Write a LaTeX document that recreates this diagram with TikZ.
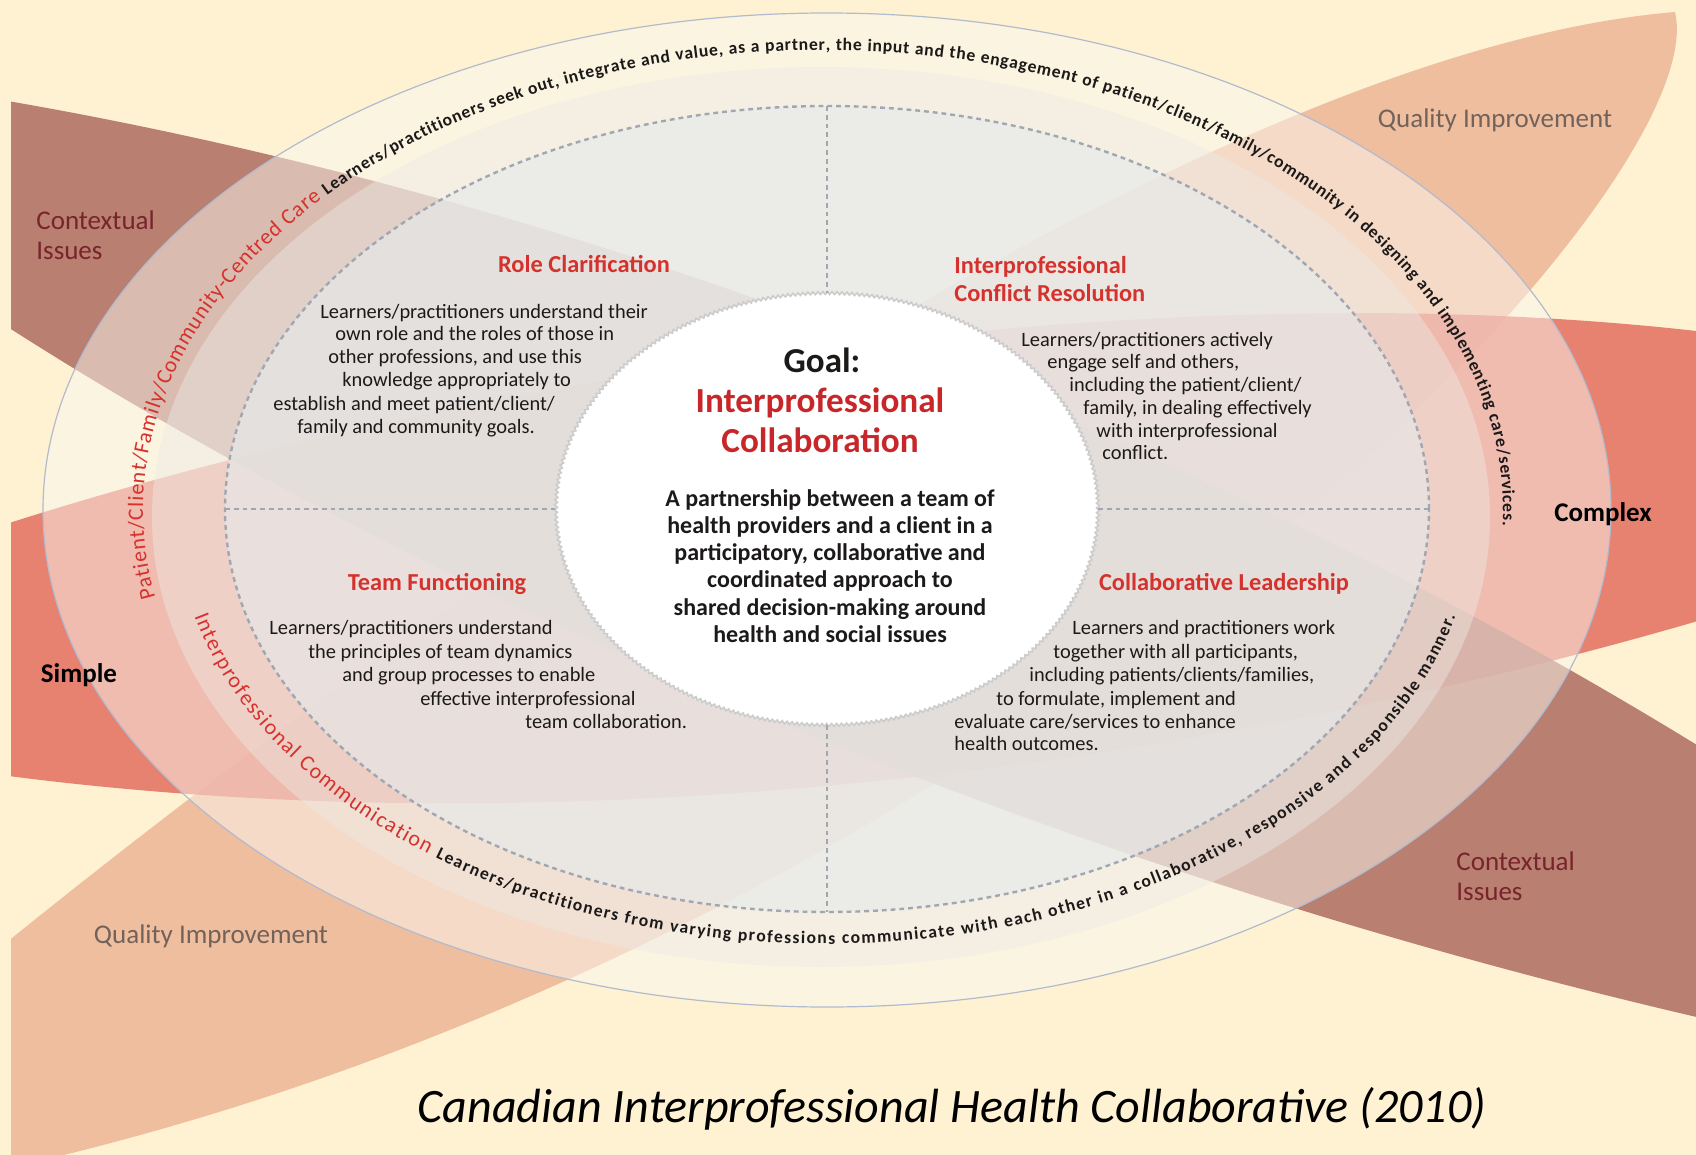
\documentclass[tikz,border=0pt]{standalone}
\usepackage{fontspec}
\setmainfont{Carlito}
\usetikzlibrary{shapes.geometric,decorations.text,decorations.pathmorphing}

\definecolor{bgcream}{RGB}{254,242,210}
\definecolor{ctxbrown}{RGB}{174,108,97}
\definecolor{qisalmon}{RGB}{237,181,151}
\definecolor{cxred}{RGB}{228,110,96}
\definecolor{ringA}{RGB}{250,247,240}
\definecolor{ringB}{RGB}{236,234,228}
\definecolor{ringC}{RGB}{230,235,236}
\definecolor{ringedge}{RGB}{178,186,205}
\definecolor{dashgrey}{RGB}{160,166,178}
\definecolor{titlered}{RGB}{214,50,45}
\definecolor{goalred}{RGB}{200,38,40}
\definecolor{ctxtext}{RGB}{120,36,44}
\definecolor{qitext}{RGB}{115,98,90}
\definecolor{bodytext}{RGB}{28,25,25}

\newcommand{\ringred}{\color{titlered}\fontsize{11}{13}\selectfont}
\newcommand{\ringblack}{\color{bodytext}\fontsize{8.8}{11}\selectfont\bfseries}

\tikzset{
  lensfill/.style={fill opacity=0.85},
  ringshape/.style={ellipse, inner sep=0pt, outer sep=0pt},
  quaddash/.style={draw=dashgrey, line width=1.2pt, dash pattern=on 2.4pt off 2pt},
  scallop/.style={draw=gray!40, line width=0.8pt, decorate,
    decoration={zigzag, segment length=2.5pt, amplitude=0.7pt}},
  quadtitle/.style={text=titlered, font=\fontsize{12.2}{14}\selectfont\bfseries, align=left, inner sep=0pt},
  bodyline/.style={anchor=base west, text=bodytext, font=\fontsize{10.2}{12}\selectfont, inner sep=0pt},
  outerlabel/.style={font=\fontsize{13.5}{15}\selectfont, align=left, inner sep=0pt},
}

\begin{document}
\begin{tikzpicture}[x=0.5pt, y=-0.5pt]
    \useasboundingbox (0,0) rectangle (1696,1155);
    \fill[bgcream] (0,0) rectangle (1696,1155);

    % crossing leaves
    \begin{scope}
        \clip (11,0) rectangle (1696,1155);
        \fill[qisalmon, lensfill] (-100,1030) .. controls (150,820) and (1100,60) .. (1675,12)
            .. controls (1720,200) and (950,1000) .. (-100,1190) -- cycle;
        \fill[cxred, lensfill] (-100,560) .. controls (400,380) and (1200,250) .. (1800,345)
            -- (1800,590) .. controls (1200,780) and (500,860) .. (-100,760) -- cycle;
        \fill[ctxbrown, lensfill] (-100,84) .. controls (500,170) and (1200,420) .. (1800,810)
            -- (1800,1040) .. controls (1000,870) and (300,535) .. (-100,255) -- cycle;
    \end{scope}

    % rings
    \node[ringshape, fill=ringA, fill opacity=0.5, draw=ringedge, line width=0.6pt,
          minimum width=784pt, minimum height=497pt] (ringout) at (827,510) {};
    \node[ringshape, fill=ringB, fill opacity=0.45,
          minimum width=669pt, minimum height=450pt] (ringmid) at (821,517) {};
    \node[ringshape, fill=ringC, fill opacity=0.6, quaddash,
          minimum width=602pt, minimum height=403pt] (inner) at (827,509) {};
    \node[ringshape, fill=white, minimum width=271pt, minimum height=216pt] (core) at (827,509) {};
    \draw[scallop] (core.center) ellipse [x radius=271, y radius=216];

    % quadrant lines
    \draw[quaddash] (inner.north) -- (core.north);
    \draw[quaddash] (core.south) -- (inner.south);
    \draw[quaddash] (inner.west) -- (core.west);
    \draw[quaddash] (core.east) -- (inner.east);

    % texts round the rings
    \path[decorate, decoration={text along path, text align={fit to path},
        text={|\ringred|Patient/Client/Family/Community-Centred Care |\ringblack|Learners/practitioners seek out, integrate and value, as a partner, the input and the engagement of patient/client/family/community in designing and implementing care/services.}}]
        plot[domain=191:-2, samples=160] ({823+680*cos(\x)},{510-460*sin(\x)});
    \path[decorate, decoration={text along path, text align={fit to path},
        text={|\ringred|Interprofessional Communication |\ringblack|Learners/practitioners from varying professions communicate with each other in a collaborative, responsive and responsible manner.}}]
        plot[domain=194:346, samples=160] ({825+650*cos(\x)},{512-432*sin(\x)});

    % goal
    \node[text=bodytext, font=\fontsize{17.5}{20}\selectfont\bfseries] (goal) at (822,360) {Goal:};
    \node[text=goalred, font=\fontsize{17.6}{20}\selectfont\bfseries, align=center] (goalname) at (820,420)
        {Interprofessional\\Collaboration};
    \node[text=bodytext, font=\fontsize{12}{13.6}\selectfont\bfseries, align=center] (goalbody) at (830,566)
        {A partnership between a team of\\health providers and a client in a\\participatory, collaborative and\\coordinated approach to\\shared decision-making around\\health and social issues};

    % role clarification
    \node[quadtitle] (rctitle) at (584,264) {Role Clarification};
    \node[bodyline] (rc1) at (320,318) {Learners/practitioners understand their};
    \node[bodyline] (rc2) at (335,340) {own role and the roles of those in};
    \node[bodyline] (rc3) at (328,363) {other professions, and use this};
    \node[bodyline] (rc4) at (342,386) {knowledge appropriately to};
    \node[bodyline] (rc5) at (273,410) {establish and meet patient/client/};
    \node[bodyline] (rc6) at (297,433) {family and community goals.};

    % conflict resolution
    \node[quadtitle, anchor=west] (crtitle) at (954,279) {Interprofessional\\Conflict Resolution};
    \node[bodyline] (cr1) at (1021,346) {Learners/practitioners actively};
    \node[bodyline] (cr2) at (1047,368) {engage self and others,};
    \node[bodyline] (cr3) at (1069,391) {including the patient/client/};
    \node[bodyline] (cr4) at (1083,414) {family, in dealing effectively};
    \node[bodyline] (cr5) at (1096,437) {with interprofessional};
    \node[bodyline] (cr6) at (1102,459) {conflict.};

    % team functioning
    \node[quadtitle] (tftitle) at (437,584) {Team Functioning};
    \node[bodyline] (tf1) at (269,634) {Learners/practitioners understand};
    \node[bodyline] (tf2) at (308,658) {the principles of team dynamics};
    \node[bodyline] (tf3) at (342,681) {and group processes to enable};
    \node[bodyline] (tf4) at (420,705) {effective interprofessional};
    \node[bodyline] (tf5) at (525,728) {team collaboration.};

    % collaborative leadership
    \node[quadtitle] (cltitle) at (1224,584) {Collaborative Leadership};
    \node[bodyline] (cl1) at (1072,634) {Learners and practitioners work};
    \node[bodyline] (cl2) at (1053,658) {together with all participants,};
    \node[bodyline] (cl3) at (1029,681) {including patients/clients/families,};
    \node[bodyline] (cl4) at (996,705) {to formulate, implement and};
    \node[bodyline] (cl5) at (954,728) {evaluate care/services to enhance};
    \node[bodyline] (cl6) at (954,750) {health outcomes.};

    % outer labels
    \node[outerlabel, text=ctxtext, anchor=west] (ctxtl) at (36,235) {Contextual\\Issues};
    \node[outerlabel, text=ctxtext, anchor=west] (ctxbr) at (1456,876) {Contextual\\Issues};
    \node[outerlabel, text=qitext] (qitr) at (1495,120) {Quality Improvement};
    \node[outerlabel, text=qitext] (qibl) at (211,936) {Quality Improvement};
    \node[outerlabel, text=black, font=\fontsize{13.5}{15}\selectfont\bfseries] (simple) at (79,675) {Simple};
    \node[outerlabel, text=black, font=\fontsize{13.5}{15}\selectfont\bfseries] (complex) at (1603,514) {Complex};

    \node[font=\fontsize{24}{28}\selectfont\itshape] (credit) at (952,1109)
        {Canadian Interprofessional Health Collaborative (2010)};
\end{tikzpicture}
\end{document}
